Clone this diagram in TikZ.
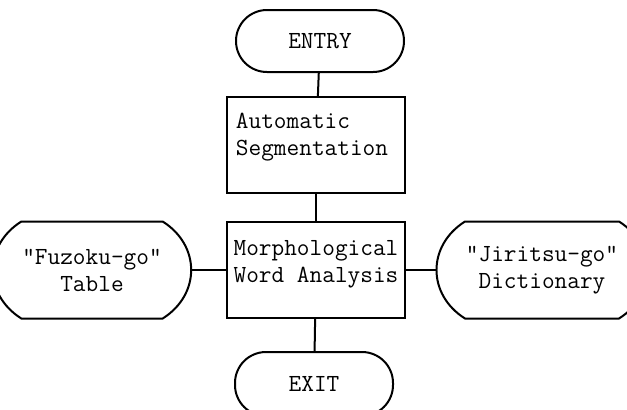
\documentclass[tikz,border=0pt]{standalone}
\usetikzlibrary{positioning}

% storage outline drawn round a named node
\newcommand{\storeshape}[1]{%
  \draw (#1.north west) -- (#1.north east)
    .. controls +(19pt,-12pt) and +(19pt,12pt) .. (#1.south east)
    -- (#1.south west)
    .. controls +(-19pt,12pt) and +(-19pt,-12pt) .. (#1.north west) -- cycle;}

\begin{document}
\begin{tikzpicture}[x=0.5pt, y=-0.5pt, line width=1pt,
  font=\fontsize{12.3}{13.5}\selectfont\ttfamily,
  every node/.style={align=center, inner sep=0pt},
  term/.style={draw, minimum width=84pt, minimum height=31pt, rounded corners=15.5pt},
  proc/.style={draw, minimum width=89pt, minimum height=48pt},
  store/.style={minimum width=55pt, minimum height=47.5pt}]
\useasboundingbox (0,0) rectangle (627,409);

\node[term] (entry) at (320,41) {ENTRY};
\node[proc] (seg) at (316,145) {};
\node[align=left] (segtxt) at (312,137) {Automatic\\Segmentation};
\node[proc] (morph) at (316,270) {};
\node[align=left] (morphtxt) at (316,264) {Morphological\\Word Analysis};
\node[term, minimum width=79pt, minimum height=32pt] (exit) at (314,384) {EXIT};

\node[store] (fuzoku) at (92,270) {"Fuzoku-go"\\Table};
\node[store] (jiritsu) at (542,270) {"Jiritsu-go"\\Dictionary};
\storeshape{fuzoku}
\storeshape{jiritsu}

\draw (entry) -- (seg);
\draw (seg) -- (morph);
\draw (morph) -- (exit);
\draw (fuzoku.east) ++(14pt,0) coordinate (fz) (fz) -- (morph.west);
\draw (jiritsu.west) ++(-14pt,0) coordinate (jr) (morph.east) -- (jr);
\end{tikzpicture}
\end{document}
